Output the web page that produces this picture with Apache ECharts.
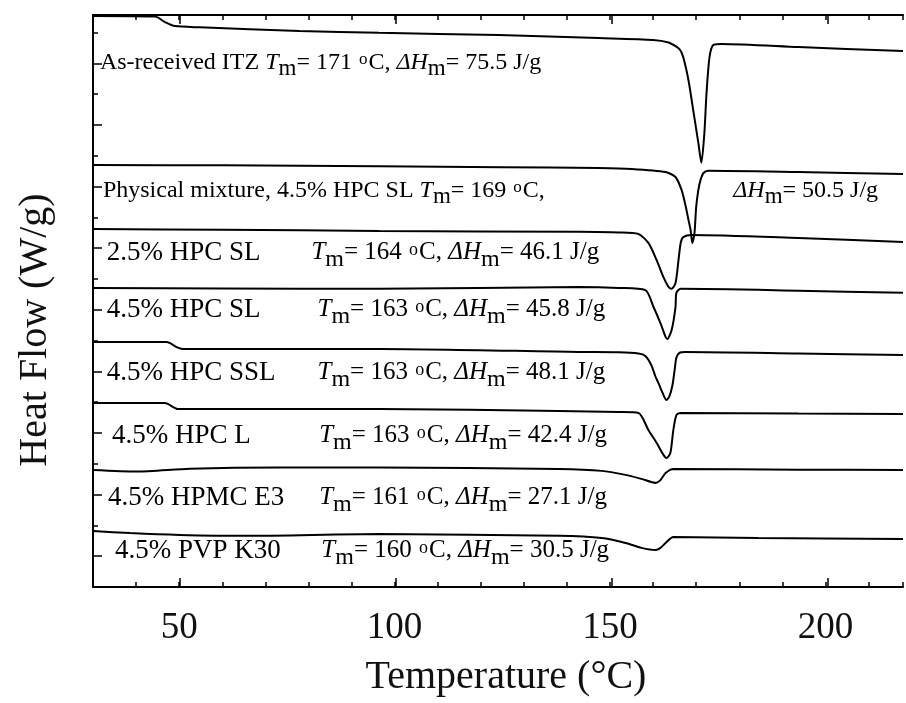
<!DOCTYPE html>
<html><head><meta charset="utf-8">
<script src="https://cdn.jsdelivr.net/npm/echarts@6/dist/echarts.min.js"></script>
<style>html,body{margin:0;padding:0;background:#fff}#c{width:906px;height:703px}</style>
</head><body><div id="c"></div>
<script>
const FONT = '"Liberation Serif","Times New Roman",serif';

// ---- axis values ----
const xMin = 30, xMax = 218;
const yMin = 0, yMax = 18.57;
const xMajorTicks = [50, 100, 150, 200];
const yMajorTicks = [1, 3, 5, 7, 9, 11, 13, 15, 17];

// ---- curve data (temperature, stacked heat flow) ----
const itzX = [30, 44.4, 46.7, 49.0, 54.8, 77.9, 96.4, 124.2, 147.4, 160.0, 163.6, 165.2, 166.2, 167.0, 168.2, 169.3, 170.5, 171.2, 171.9, 172.4, 173.1, 174.0, 176.0, 193.7, 218];
const itzY = [18.54, 18.52, 18.34, 18.21, 18.17, 18.05, 17.99, 17.92, 17.82, 17.76, 17.68, 17.56, 17.45, 17.2, 16.46, 15.49, 14.42, 13.77, 14.74, 16.04, 17.21, 17.6, 17.63, 17.53, 17.4];

const pmX = [30, 60, 96.4, 125, 147.4, 155, 162.9, 165.2, 166.6, 167.5, 168.2, 168.7, 169.1, 169.6, 170.0, 170.5, 171.0, 171.7, 172.8, 193.7, 218];
const pmY = [13.70, 13.69, 13.66, 13.63, 13.6, 13.57, 13.47, 13.31, 12.89, 12.40, 11.92, 11.59, 11.17, 11.49, 12.34, 12.89, 13.21, 13.44, 13.51, 13.47, 13.41];

const sl25X = [30, 60, 96.4, 142.7, 152, 156.6, 158.9, 160.8, 162.4, 163.6, 164.3, 165.2, 165.9, 166.4, 167.0, 168.9, 193.7, 218];
const sl25Y = [11.62, 11.6, 11.56, 11.53, 11.51, 11.46, 11.17, 10.62, 10.06, 9.74, 9.68, 9.87, 10.62, 11.17, 11.36, 11.43, 11.33, 11.2];

const sl45X = [30, 60, 96.4, 142.7, 152, 158.2, 160.1, 161.7, 162.9, 163.3, 164.3, 165.2, 165.4, 166.4, 193.7, 218];
const sl45Y = [9.71, 9.69, 9.68, 9.74, 9.71, 9.64, 9.09, 8.57, 8.12, 8.05, 8.34, 9.09, 9.55, 9.68, 9.62, 9.55];

const sslX = [30, 47.1, 49.4, 50.8, 60, 96.4, 142.7, 152, 156.6, 158.2, 159.6, 160.5, 161.3, 162.2, 163.1, 163.8, 164.5, 165.0, 165.4, 166.1, 167.5, 193.7, 218];
const sslY = [7.95, 7.95, 7.79, 7.73, 7.73, 7.73, 7.63, 7.62, 7.58, 7.5, 7.2, 6.85, 6.6, 6.3, 6.07, 6.2, 6.56, 7.05, 7.44, 7.6, 7.63, 7.58, 7.53];

const hpcLX = [30, 46.7, 49.7, 60, 96.4, 138.1, 152, 156.6, 158.9, 160.8, 162.4, 163.1, 164.0, 164.7, 165.4, 166.3, 193.7, 218];
const hpcLY = [5.97, 5.97, 5.78, 5.78, 5.78, 5.71, 5.68, 5.65, 5.1, 4.68, 4.29, 4.19, 4.35, 5.1, 5.58, 5.65, 5.63, 5.62];

const e3X = [30, 40.2, 52.5, 73.3, 96.4, 138.1, 148.1, 153.6, 157.3, 160.6, 161.7, 162.9, 164.7, 193.7, 218];
const e3Y = [3.80, 3.75, 3.84, 3.88, 3.88, 3.83, 3.77, 3.64, 3.51, 3.38, 3.47, 3.7, 3.83, 3.81, 3.80];

const pvpX = [30, 38.6, 50.1, 65.6, 96.4, 138.1, 148.1, 153.6, 157.3, 160.6, 161.7, 162.9, 164.7, 184.4, 218];
const pvpY = [1.82, 1.75, 1.69, 1.66, 1.72, 1.66, 1.59, 1.43, 1.27, 1.2, 1.27, 1.43, 1.62, 1.59, 1.56];

// ---- annotation content ----
const sampleNames = ['As-received ITZ', 'Physical mixture, 4.5% HPC SL', '2.5% HPC SL', '4.5% HPC SL', '4.5% HPC SSL', '4.5% HPC L', '4.5% HPMC E3', '4.5% PVP K30'];
const tmValues = ['171', '169', '164', '163', '163', '163', '161', '160'];
const dhValues = ['75.5', '50.5', '46.1', '45.8', '48.1', '42.4', '27.1', '30.5'];

// annotation layout (data units)
const nameAt = [[31.6, 16.95], [32.3, 12.8], [33.2, 10.78], [33.2, 8.93], [33.2, 6.88], [34.4, 4.84], [33.5, 2.82], [35.1, 1.10]];
const valueAt = [null, null, [80.7, 10.78], [82.1, 8.93], [82.1, 6.88], [82.5, 4.84], [82.5, 2.82], [83.0, 1.10]];
const pmDhAt = [178.6, 12.8];

const curves = [[itzX, itzY], [pmX, pmY], [sl25X, sl25Y], [sl45X, sl45Y], [sslX, sslY], [hpcLX, hpcLY], [e3X, e3Y], [pvpX, pvpY]];

const chart = echarts.init(document.getElementById('c'), null, {renderer: 'canvas'});

const axisLine = {show: true, lineStyle: {color: '#000', width: 2}};
const minorTick = {show: true, inside: true, length: 5, lineStyle: {color: '#000', width: 1.5}};
const majorTick = {show: true, inside: true, length: 9, lineStyle: {color: '#000', width: 1.5}};

const series = curves.map((c, i) => ({
  type: 'line', name: sampleNames[i], xAxisIndex: 0, yAxisIndex: 0,
  data: c[0].map((x, j) => [x, c[1][j]]),
  showSymbol: false, symbol: 'none', smooth: 0.25,
  lineStyle: {color: '#000', width: 2}, z: 3
}));

const gridRect = {left: 93, top: 15, right: 0, bottom: 116, containLabel: false};

chart.setOption({
  animation: false,
  backgroundColor: '#fff',
  grid: [Object.assign({}, gridRect), Object.assign({}, gridRect)],
  xAxis: [
    {type: 'value', gridIndex: 0, position: 'bottom', min: xMin, max: xMax, interval: 10,
     axisLine: axisLine, axisTick: minorTick, splitLine: {show: false},
     axisLabel: {show: true, margin: 23, color: '#111', fontFamily: FONT, fontSize: 37,
       formatter: v => (xMajorTicks.indexOf(v) >= 0 ? String(v) : '')},
     name: 'Temperature (\u00B0C)', nameLocation: 'middle', nameGap: 70,
     nameTextStyle: {color: '#111', fontFamily: FONT, fontSize: 40, padding: [0, 0, 0, 16]}},
    {type: 'value', gridIndex: 0, position: 'top', min: xMin, max: xMax, interval: 10,
     axisLine: axisLine, axisTick: minorTick, splitLine: {show: false}, axisLabel: {show: false}},
    {type: 'value', gridIndex: 1, position: 'bottom', min: xMin, max: xMax,
     axisLine: {show: false}, axisTick: Object.assign({customValues: xMajorTicks}, majorTick),
     splitLine: {show: false}, axisLabel: {show: false}},
    {type: 'value', gridIndex: 1, position: 'top', min: xMin, max: xMax,
     axisLine: {show: false}, axisTick: Object.assign({customValues: xMajorTicks}, majorTick),
     splitLine: {show: false}, axisLabel: {show: false}}
  ],
  yAxis: [
    {type: 'value', gridIndex: 0, position: 'left', min: yMin, max: yMax, interval: 1,
     axisLine: axisLine, axisTick: minorTick, splitLine: {show: false}, axisLabel: {show: false},
     name: 'Heat Flow (W/g)', nameLocation: 'middle', nameGap: 38, nameRotate: 90,
     nameTextStyle: {color: '#111', fontFamily: FONT, fontSize: 40, padding: [0, 58, 0, 0]}},
    {type: 'value', gridIndex: 1, position: 'left', min: yMin, max: yMax,
     axisLine: {show: false}, axisTick: Object.assign({customValues: yMajorTicks}, majorTick),
     splitLine: {show: false}, axisLabel: {show: false}}
  ],
  series: series
});

// ---- annotations ----
function makeRich(size) {
  const lh = Math.round(size * 1.2);
  return {
    n: {fontFamily: FONT, fontSize: size, color: '#111', verticalAlign: 'top', lineHeight: lh},
    i: {fontFamily: FONT, fontSize: size, fontStyle: 'italic', color: '#111', verticalAlign: 'top', lineHeight: lh},
    s: {fontFamily: FONT, fontSize: size - 1, color: '#111', verticalAlign: 'top', lineHeight: lh, padding: [Math.round(size * 0.3), 0, 0, 0]},
    o: {fontFamily: FONT, fontSize: Math.round(size * 0.72), color: '#111', verticalAlign: 'top', lineHeight: Math.round(size * 0.8), padding: [1, 1, 0, 1]}
  };
}
const richRow = makeRich(24);
const richName = makeRich(27);
const richVal = makeRich(25);
const tmText = v => '{i|T}{s|m}{n|= ' + v + ' }{o|o}{n|C,}';
const dhText = v => '{i|\u0394H}{s|m}{n|= ' + v + ' J/g}';

const graphics = [];
function addText(pos, text, rich) {
  const p = chart.convertToPixel({gridIndex: 0}, pos);
  graphics.push({type: 'text', x: p[0], y: p[1], z: 10,
    style: {text: text, rich: rich, align: 'left', verticalAlign: 'middle'}});
}
sampleNames.forEach((nm, i) => {
  if (i === 0) {
    addText(nameAt[i], '{n|' + nm + ' }' + tmText(tmValues[i]) + '{n| }' + dhText(dhValues[i]), richRow);
  } else if (i === 1) {
    addText(nameAt[i], '{n|' + nm + ' }' + tmText(tmValues[i]), richRow);
    addText(pmDhAt, dhText(dhValues[i]), richRow);
  } else {
    addText(nameAt[i], '{n|' + nm + '}', richName);
    addText(valueAt[i], tmText(tmValues[i]) + '{n| }' + dhText(dhValues[i]), richVal);
  }
});
chart.setOption({graphic: graphics});
</script>
</body></html>
